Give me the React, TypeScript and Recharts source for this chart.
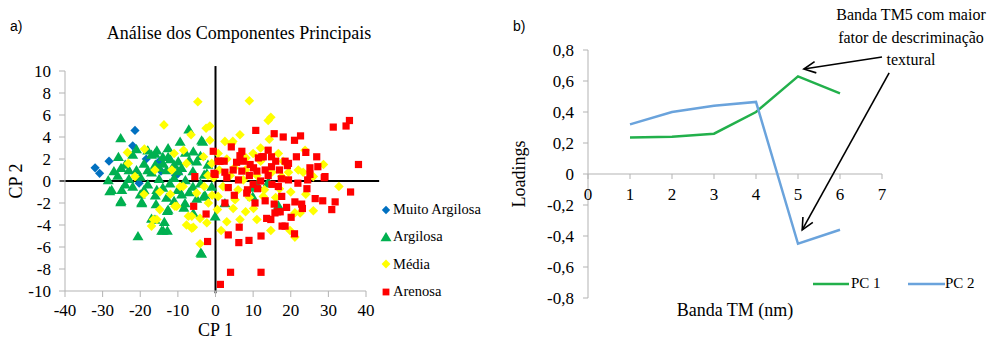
import React from "react";
import { ScatterChart, Scatter, XAxis, YAxis, ReferenceLine, Legend, LineChart, Line } from "recharts";

// ---- panel a) PCA scores (CP 1, CP 2) ----
const muitoArgilosa: [number, number][] = [
  [-21.4, 4.6], [-22.0, 3.2], [-28.3, 1.8], [-32.0, 1.2], [-30.8, 0.7], [-18.4, 2.0],
  [-14.9, 1.8], [-10.6, 0.5], [-9.9, 0.7], [-20.3, -0.2], [-14.5, 0.9],
];

const argilosa: [number, number][] = [
  [-25.2, 3.9], [-7.1, 4.7], [-9.4, 3.6], [-5.9, 2.7], [-15.6, 2.8], [-12.6, 3.0], [-3.4, 3.6],
  [-25.8, 2.2], [-3.7, 3.7], [-12.6, 2.2], [-16.1, 2.5], [-9.9, 1.8], [-13.9, 1.6], [-2.3, 0.7],
  [-12.1, -0.2], [-15.6, -0.8], [-12.6, -2.6], [-5.9, -2.9], [-13.9, -4.5], [-3.7, -6.6],
  [-3.2, -1.4], [-8.1, -2.0], [-25.1, 1.2], [-28.5, 0.1], [-27.6, -0.8], [-24.9, -0.8],
  [-25.1, -1.8], [-19.6, -1.9], [-17.0, -3.4], [-20.6, -5.0], [-28.1, -0.9], [-25.2, -1.9],
  [-19.6, -2.0], [-15.8, -2.1], [-14.3, -4.5], [-12.8, -4.5], [-13.6, -3.7], [-12.8, -2.7],
  [-16.1, -3.5], [-8.4, -2.4], [-2.8, -1.3], [-3.9, -6.5], [7.3, 2.1], [14.3, -0.2], [9.9, -1.4],
  [16.7, -2.2], [11.0, -0.3], [-0.1, -3.2], [2.5, -2.0], [10.0, -0.6], [14.0, -0.1],
  [-26.0, 0.5], [-24.0, 1.5], [-23.0, 0.2], [-22.0, -0.5], [-21.0, 1.0], [-20.0, 0.4], [-19.0, 1.6],
  [-18.0, -0.3], [-17.0, 0.8], [-16.0, 1.5], [-15.0, 0.2], [-14.0, -0.6], [-13.0, 1.0], [-12.0, 2.0],
  [-11.0, 0.3], [-10.0, -0.8], [-9.0, 1.2], [-8.0, 0.1], [-7.0, -1.0], [-6.0, 0.9], [-5.0, 1.8],
  [-4.0, -0.2], [-3.0, 0.6], [-22.0, 2.4], [-20.0, -1.2], [-18.0, 1.0], [-16.0, -1.3], [-14.0, 2.2],
  [-11.0, 1.5], [-8.0, 2.6], [-6.0, -0.5], [-24.0, -0.3], [-17.0, 2.4], [-13.0, -1.5], [-10.0, 0.9],
  [-19.0, -0.8], [-23.0, 1.0], [-21.0, 2.9], [-27.0, 0.9], [-11.0, -1.8], [-7.0, 1.9], [-15.0, 1.2],
  [-4.0, 2.3], [-2.0, 1.5], [-1.0, -0.5], [-5.0, -1.6], [-9.0, -1.2], [-18.0, 2.8],
];

const media: [number, number][] = [
  [-4.7, 7.2], [9.0, 7.3], [-13.7, 5.1], [-2.5, 4.8], [-6.5, 4.2], [14.7, 5.8], [14.0, 5.5],
  [14.3, 3.8], [16.7, 2.5], [4.3, 3.4], [0.7, 2.5], [8.1, 2.1], [-1.5, 3.7], [-3.2, 2.2],
  [-7.7, 1.6], [-11.6, 1.0], [-16.1, 1.0], [-8.6, -0.5], [-14.8, -1.0], [-10.8, -2.3],
  [-14.8, -2.6], [-6.3, -3.2], [-4.1, -3.4], [-5.9, -4.2], [-7.7, -4.0], [-1.9, -2.0],
  [-4.1, -5.7], [-16.5, -3.5], [-0.5, 0.3], [-0.9, -1.3], [-18.9, 2.9], [-23.4, 2.6],
  [-23.2, 1.6], [-21.4, 0.4], [-17.0, -4.1], [-15.6, -3.5], [-10.3, -2.3],
  [-7.2, -3.2], [-6.3, -4.3], [-9.4, -0.5], [-5.0, -1.1], [-2.3, -3.8], [3.9, 0.5],
  [7.4, 0.1], [17.6, 0.4], [5.2, -1.7], [4.7, -2.5], [10.1, -2.5], [12.7, -1.4], [6.5, -3.5],
  [14.7, -4.5], [0.7, -1.4], [28.7, 1.5], [23.8, 2.8], [22.0, 1.0], [23.3, 0.8], [32.8, -0.5],
  [26.0, -2.7], [22.5, -2.9], [21.1, -2.9], [19.8, -4.5], [21.1, -5.1], [19.4, 0.8], [4.6, 3.6],
  [1.0, 1.0], [2.0, -0.5], [3.0, 2.0], [5.0, 1.2], [6.0, -0.8], [8.0, 1.0], [9.0, -1.5],
  [10.0, 2.5], [11.0, 0.5], [12.0, 1.8], [13.0, -0.8], [15.0, 0.8], [16.0, -1.5], [18.0, 1.8],
  [20.0, -1.0], [-2.0, 0.5], [-1.0, 1.6], [0.5, -2.6], [2.5, 3.6], [-3.0, -0.5], [17.0, -0.7],
  [24.0, -1.2], [26.0, 0.4], [11.0, -3.5], [8.0, -2.8], [3.0, -3.7], [1.5, -4.5], [-1.5, 5.0],
  [-8.5, 2.8], [-11.0, 2.5], [-19.0, -1.2], [-12.0, -1.2], [6.5, 4.2], [12.0, 3.0],
];

const arenosa: [number, number][] = [
  [35.6, 5.5], [34.7, 5.0], [31.3, 4.9], [22.6, 4.1], [21.0, 3.7], [18.0, 4.0], [15.6, 4.3],
  [10.7, 4.6], [24.0, 2.6], [26.9, 2.2], [21.5, 2.2], [19.4, 1.6], [18.5, 1.8], [38.0, 1.5],
  [27.2, 1.3], [25.1, 1.2], [25.1, 0.6], [28.9, 0.3], [19.4, 0.1], [21.9, -0.2], [24.5, 0.1],
  [24.3, -0.7], [35.9, -1.0], [26.5, -1.6], [28.5, -1.8], [31.8, -1.9], [21.1, -1.9], [22.9, -2.1],
  [23.1, -2.5], [30.9, -2.6], [18.9, -2.4], [20.1, -3.3], [18.5, -4.1], [21.0, -4.8], [-0.6, 2.7],
  [4.2, 3.1], [7.0, 2.7], [14.0, 2.8], [12.7, 2.2], [11.4, 2.1], [14.9, 2.2], [1.2, 1.8], [2.3, 1.8],
  [5.6, 1.7], [7.4, 1.8], [9.2, 1.5], [14.9, 1.3], [19.1, 1.4], [-0.4, 0.7], [2.5, 0.8], [4.7, 1.0],
  [7.0, 0.9], [10.1, 1.2], [11.0, 0.9], [13.2, 1.0], [6.1, 0.1], [17.5, 0.2], [3.4, -0.6], [8.5, -0.8],
  [11.2, -0.7], [16.7, -0.5], [2.5, -2.0], [8.3, -1.1], [10.5, -2.0], [13.2, -1.8], [17.6, -1.4],
  [15.6, -2.1], [17.2, -2.8], [15.8, -2.9], [13.6, -3.4], [6.3, -4.2], [17.7, -4.1], [3.4, -4.9],
  [6.2, -5.6], [8.9, -5.4], [12.1, -5.0], [0.7, 1.8], [-5.5, 0.4], [-5.8, -2.3], [-2.5, -3.0],
  [-2.1, -5.5], [-0.1, 0.6], [1.3, -9.4], [29.1, 0.4], [16.5, -2.8], [14.7, -3.5], [4.0, -8.3],
  [12.1, -8.3], [12.3, 2.2], [3.0, 0.3], [9.0, 0.5], [12.0, 0.0], [15.0, -0.3], [5.0, -1.3],
  [14.0, 0.5], [16.0, 1.8], [10.0, -0.3], [6.5, 2.3], [17.0, 1.0],
];

const cp1Ticks = [-40, -30, -20, -10, 0, 10, 20, 30, 40];
const cp2Ticks = [-10, -8, -6, -4, -2, 0, 2, 4, 6, 8, 10];

// ---- panel b) loadings per TM band ----
const bandas = [1, 2, 3, 4, 5, 6];
const pc1 = [0.235, 0.24, 0.26, 0.4, 0.63, 0.52];
const pc2 = [0.32, 0.4, 0.44, 0.465, -0.45, -0.36];
const bandTicks = [0, 1, 2, 3, 4, 5, 6, 7];
const loadTicks = [-0.8, -0.6, -0.4, -0.2, 0, 0.2, 0.4, 0.6, 0.8];

const SERIF = "Liberation Serif, serif";
const SANS = "Liberation Sans, sans-serif";
const AXIS_GRAY = "#b3b3b3";

const BLUE = "#0070c0";
const GREEN = "#00b050";
const YELLOW = "#ffff00";
const RED = "#ff0000";
const PC1_COLOR = "#22b04b";
const PC2_COLOR = "#6aa3dc";

const toPoints = (arr: [number, number][]) => arr.map(([x, y]) => ({ x, y }));
const loadingRows = bandas.map((b, i) => ({ b, pc1: pc1[i], pc2: pc2[i] }));

const diamond = (cx: number, cy: number, r: number, fill: string) => (
  <polygon points={`${cx},${cy - r} ${cx + r},${cy} ${cx},${cy + r} ${cx - r},${cy}`} fill={fill} />
);
const triangle = (cx: number, cy: number, r: number, fill: string) => (
  <polygon points={`${cx},${cy - r} ${cx + r * 1.1},${cy + r * 0.85} ${cx - r * 1.1},${cy + r * 0.85}`} fill={fill} />
);
const square = (cx: number, cy: number, r: number, fill: string) => (
  <rect x={cx - r} y={cy - r} width={r * 2} height={r * 2} fill={fill} />
);

const soilSeries = [
  { name: "Muito Argilosa", data: muitoArgilosa, color: BLUE, mark: diamond, r: 4.6, lr: 4.2 },
  { name: "Argilosa", data: argilosa, color: GREEN, mark: triangle, r: 5, lr: 5 },
  { name: "Média", data: media, color: YELLOW, mark: diamond, r: 4.8, lr: 4.4 },
  { name: "Arenosa", data: arenosa, color: RED, mark: square, r: 3.6, lr: 3.4 },
];

const SoilLegend = () => (
  <div style={{ fontFamily: SERIF, fontSize: 14.5, color: "#000" }}>
    {soilSeries.map((s) => (
      <div key={s.name} style={{ height: 27.3, display: "flex", alignItems: "center" }}>
        <svg width={14} height={14}>
          {s.mark(7, 7, s.lr, s.color)}
        </svg>
        <span style={{ fontFamily: SERIF }}>{s.name}</span>
      </div>
    ))}
  </div>
);

const PcLegend = () => (
  <div style={{ fontFamily: SERIF, fontSize: 15, color: "#000", display: "flex", alignItems: "center" }}>
    <svg width={36} height={10}><line x1={0} x2={36} y1={5} y2={5} stroke={PC1_COLOR} strokeWidth={2.5} /></svg>
    <span style={{ marginLeft: 2, width: 57, fontFamily: SERIF }}>PC 1</span>
    <svg width={37} height={10}><line x1={0} x2={37} y1={5} y2={5} stroke={PC2_COLOR} strokeWidth={2.5} /></svg>
    <span style={{ fontFamily: SERIF }}>PC 2</span>
  </div>
);

const CpYLabel = ({ viewBox }: any) => {
  const x = viewBox.x - 7;
  const y = viewBox.y + viewBox.height / 2;
  return (
    <text x={x} y={y} transform={`rotate(-90, ${x}, ${y})`} textAnchor="middle" dominantBaseline="middle"
      style={{ fontFamily: SERIF }} fontSize={18} fill="#000">CP 2</text>
  );
};

const LoadYLabel = ({ viewBox }: any) => {
  const x = viewBox.x - 7;
  const y = viewBox.y + viewBox.height / 2;
  return (
    <text x={x} y={y} transform={`rotate(-90, ${x}, ${y})`} textAnchor="middle" dominantBaseline="middle"
      style={{ fontFamily: SERIF }} fontSize={18} fill="#000">Loadings</text>
  );
};

// plain serif tick text for the y axes and panel a) x axis
const SerifTick = ({ x, y, payload, textAnchor, tickFormatter, dy }: any) => (
  <text x={x} y={y} dy={dy} textAnchor={textAnchor} style={{ fontFamily: SERIF }} fontSize={17} fill="#000">
    {tickFormatter ? tickFormatter(payload.value) : payload.value}
  </text>
);

// panel b) x axis sits on the zero line, so move its ticks up from the bottom edge
const B_PLOT_H = 248;
const BandTick = ({ x, y, payload }: any) => {
  const zy = y - B_PLOT_H / 2 - 8;
  return (
    <g>
      <line x1={x} x2={x} y1={zy} y2={zy + 5} stroke={AXIS_GRAY} />
      <text x={x} y={zy + 26} textAnchor="middle" style={{ fontFamily: SERIF }} fontSize={17} fill="#000">{payload.value}</text>
    </g>
  );
};

const Arrow = (props: any) => {
  const { x1, y1, x2, y2 } = props;
  const a = Math.atan2(y2 - y1, x2 - x1);
  const len = 13;
  const spread = 0.45;
  const p1 = [x2 - len * Math.cos(a - spread), y2 - len * Math.sin(a - spread)];
  const p2 = [x2 - len * Math.cos(a + spread), y2 - len * Math.sin(a + spread)];
  return (
    <g stroke="#000" strokeWidth={1.6} fill="none">
      <line x1={x1} y1={y1} x2={x2} y2={y2} />
      <polyline points={`${p1[0]},${p1[1]} ${x2},${y2} ${p2[0]},${p2[1]}`} />
    </g>
  );
};

const fmtLoad = (v: number) => (v === 0 ? "0" : v.toFixed(1).replace(".", ","));

export default function App() {
  return (
    <div style={{ position: "absolute", left: 0, top: 0, width: 987, height: 341, background: "#fff", overflow: "hidden", fontFamily: SERIF }}>
      <div style={{ position: "absolute", left: 10, top: 18, fontFamily: SANS, fontSize: 14 }}>a)</div>
      <div style={{ position: "absolute", left: 0, top: 22, width: 478, textAlign: "center", fontSize: 18, lineHeight: "22px" }}>
        Análise dos Componentes Principais
      </div>
      <div style={{ position: "absolute", left: 513, top: 18, fontFamily: SANS, fontSize: 14 }}>b)</div>
      <div style={{ position: "absolute", left: 830, top: 4, width: 162, textAlign: "center", fontSize: 16, lineHeight: "22.5px", whiteSpace: "nowrap" }}>
        Banda TM5 com maior<br />fator de descriminação<br />textural
      </div>

      <div style={{ position: "absolute", left: 0, top: 0 }}>
        <ScatterChart width={500} height={341} margin={{ top: 71, right: 134, bottom: 20, left: 25 }}>
          <XAxis type="number" dataKey="x" domain={[-40, 40]} ticks={cp1Ticks} interval={0}
            axisLine={{ stroke: AXIS_GRAY }} tickLine={{ stroke: AXIS_GRAY }} tickSize={6} tickMargin={6}
            tick={<SerifTick dy="0.75em" />} height={30}
            label={{ value: "CP 1", position: "bottom", offset: 2, style: { fontFamily: SERIF }, fontSize: 18, fill: "#000" }} />
          <YAxis type="number" dataKey="y" domain={[-10, 10]} ticks={cp2Ticks} interval={0} width={40}
            axisLine={{ stroke: AXIS_GRAY }} tickLine={{ stroke: AXIS_GRAY }} tickSize={6} tickMargin={8}
            tick={<SerifTick dy="0.35em" />} label={<CpYLabel />} />
          {soilSeries.map((s) => (
            <Scatter key={s.name} name={s.name} data={toPoints(s.data)} isAnimationActive={false}
              shape={(p: any) => s.mark(p.cx, p.cy, s.r, s.color)} />
          ))}
          <ReferenceLine segment={[{ x: 0, y: 10.45 }, { x: 0, y: -10.2 }]} stroke="#000" strokeWidth={2} ifOverflow="visible" />
          <ReferenceLine segment={[{ x: -41.4, y: 0 }, { x: 43.5, y: 0 }]} stroke="#000" strokeWidth={2} ifOverflow="visible" />
          <Legend layout="vertical" align="center" verticalAlign="middle" content={<SoilLegend />}
            wrapperStyle={{ left: 379, top: 196, width: 120 }} />
        </ScatterChart>
      </div>

      <div style={{ position: "absolute", left: 500, top: 0 }}>
        <LineChart width={487} height={341} data={loadingRows} margin={{ top: 50, right: 105, bottom: 13, left: 28 }}>
          <XAxis type="number" dataKey="b" domain={[0, 7]} ticks={bandTicks} interval={0} height={30}
            axisLine={false} tickLine={false} tick={<BandTick />}
            label={{ value: "Banda TM (nm)", position: "bottom", offset: -25, style: { fontFamily: SERIF }, fontSize: 18, fill: "#000" }} />
          <YAxis type="number" domain={[-0.8, 0.8]} ticks={loadTicks} interval={0} width={60}
            axisLine={{ stroke: AXIS_GRAY }} tickLine={{ stroke: AXIS_GRAY }} tickSize={5} tickMargin={9}
            tickFormatter={fmtLoad} tick={<SerifTick dy="0.35em" />} label={<LoadYLabel />} />
          <ReferenceLine y={0} stroke={AXIS_GRAY} />
          <Line dataKey="pc1" name="PC 1" stroke={PC1_COLOR} strokeWidth={2.5} dot={false} isAnimationActive={false} />
          <Line dataKey="pc2" name="PC 2" stroke={PC2_COLOR} strokeWidth={2.5} dot={false} isAnimationActive={false} />
          <ReferenceLine segment={[{ x: 7.0, y: 0.755 }, { x: 5.14, y: 0.677 }]} ifOverflow="visible" shape={Arrow} />
          <ReferenceLine segment={[{ x: 7.17, y: 0.652 }, { x: 5.1, y: -0.361 }]} ifOverflow="visible" shape={Arrow} />
          <Legend layout="vertical" align="center" verticalAlign="middle" content={<PcLegend />}
            wrapperStyle={{ left: 313, top: 275, width: 174 }} />
        </LineChart>
      </div>
    </div>
  );
}
